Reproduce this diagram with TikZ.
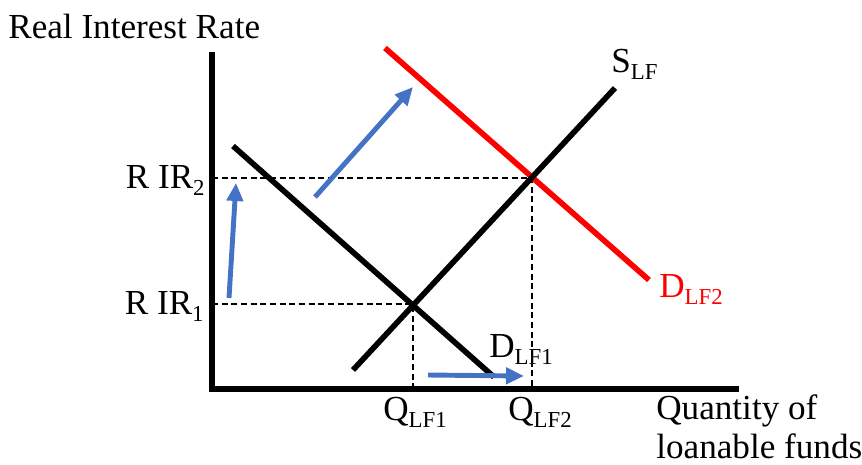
\documentclass[tikz,border=0pt]{standalone}
\usepackage{fontspec}
\setmainfont{Liberation Serif}
\usetikzlibrary{arrows.meta}
\definecolor{shiftblue}{HTML}{4472C4}
\newcommand{\lfsub}[1]{\raisebox{-4.5pt}{\fontsize{13}{13}\selectfont #1}}

\begin{document}
\begin{tikzpicture}[
    x=0.02cm, y=-0.02cm,
    axisline/.style={line width=3.4pt},
    lfcurve/.style={line width=3.2pt},
    guideline/.style={line width=1.1pt, dash pattern=on 3.5pt off 2pt},
    shiftarr/.style={-{Triangle[length=3.6mm, width=3.2mm]}, line width=2.8pt, shiftblue},
    lbl/.style={inner sep=0pt, font=\fontsize{20}{24}\selectfont}
]
\useasboundingbox (0,0) rectangle (862,464);

% Axes
\coordinate (top) at (212,52);
\coordinate (origin) at (212,389);
\coordinate (xend) at (739,389);
\draw[axisline] (top) -- (origin) -- (xend);

% Equilibria
\coordinate (e1) at (413,304);
\coordinate (e2) at (532,178);

% Dashed guides
\draw[guideline] (origin |- e2) -- (e2) -- (e2 |- origin);
\draw[guideline] (origin |- e1) -- (e1) -- (e1 |- origin);

% Demand after the shift
\coordinate (dnew0) at (385,48);
\coordinate (dnew1) at (649,280);
\draw[lfcurve, red] (dnew0) -- (dnew1);

% Supply
\coordinate (sup0) at (353,370);
\coordinate (sup1) at (615,88);
\draw[lfcurve] (sup0) -- (sup1);

% Demand
\coordinate (dem0) at (233,146);
\coordinate (dem1) at (494,377);
\draw[lfcurve] (dem0) -- (dem1);

% Shift arrows
\coordinate (up0) at (229,298);
\coordinate (up1) at (236,183);
\coordinate (diag0) at (315,197);
\coordinate (diag1) at (413,87);
\coordinate (right0) at (428,375);
\coordinate (right1) at (524,376);
\draw[shiftarr] (up0) -- (up1);
\draw[shiftarr] (diag0) -- (diag1);
\draw[shiftarr] (right0) -- (right1);

% Labels
\node[lbl, anchor=base west] (ylab) at (8,38) {Real Interest Rate};
\node[lbl, anchor=base east] (rir2) at (205,188) {R IR\lfsub{2}};
\node[lbl, anchor=base east] (rir1) at (204,314) {R IR\lfsub{1}};
\node[lbl, anchor=base west] (slab) at (611,72) {S\lfsub{LF}};
\node[lbl, anchor=base west, red] (dlab2) at (659,297) {D\lfsub{LF2}};
\node[lbl, anchor=base west] (dlab1) at (489,357) {D\lfsub{LF1}};
\node[lbl, anchor=base west] (qlab1) at (383,420) {Q\lfsub{LF1}};
\node[lbl, anchor=base west] (qlab2) at (508,420) {Q\lfsub{LF2}};
\node[lbl, anchor=base west] (xlab1) at (656,419) {Quantity of};
\node[lbl, anchor=base west] (xlab2) at (656,458) {loanable funds};

\end{tikzpicture}
\end{document}
